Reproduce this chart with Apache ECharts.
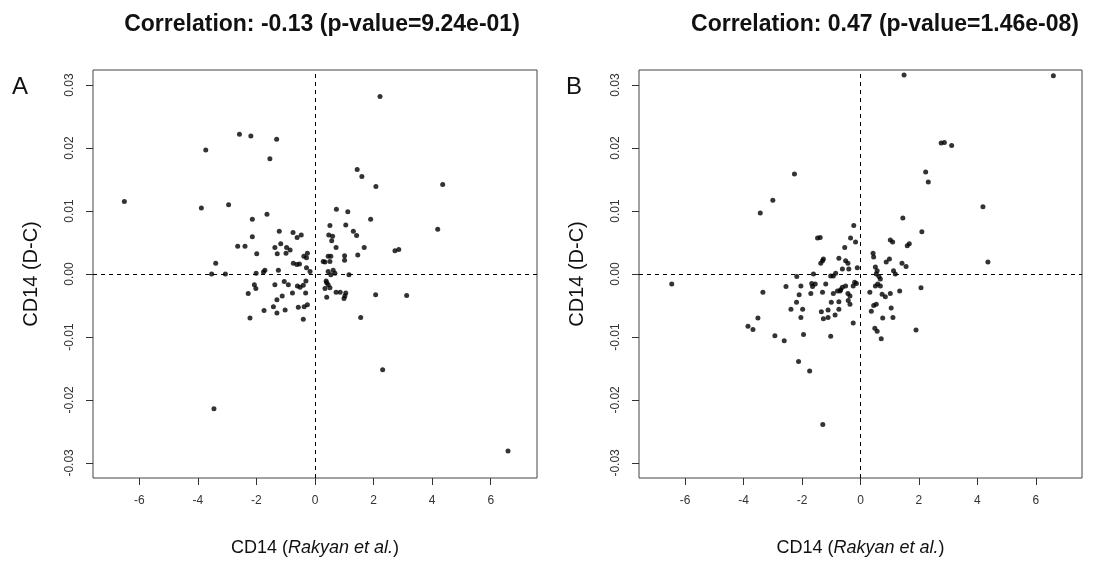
<!DOCTYPE html>
<html>
<head>
<meta charset="utf-8">
<script src="https://cdn.jsdelivr.net/npm/echarts@6/dist/echarts.min.js"></script>
<style>
html,body{margin:0;padding:0;background:#fff;}
#chart{width:1106px;height:566px;}
</style>
</head>
<body>
<div id="chart"></div>
<script>
// Panel titles and labels
const titleA = 'Correlation: -0.13 (p-value=9.24e-01)';
const titleB = 'Correlation: 0.47 (p-value=1.46e-08)';
const xTicks = [-6, -4, -2, 0, 2, 4, 6];
const yTicks = [-0.03, -0.02, -0.01, 0.00, 0.01, 0.02, 0.03];

// Panel A: CD14 (Rakyan et al.) vs CD14 (D-C)
const pointsA = [
[2.22,0.0282],[-2.58,0.0222],[-2.19,0.0219],[-1.31,0.0214],[-3.73,0.0197],[-1.54,0.0183],[1.44,0.0166],[1.60,0.0155],
[2.08,0.0139],[4.36,0.0142],[-6.51,0.0115],[-3.88,0.0105],[-2.95,0.0110],[-1.64,0.0095],[0.73,0.0103],[1.12,0.0099],
[-2.14,0.0087],[1.90,0.0087],[4.19,0.0071],[0.51,0.0077],[1.05,0.0078],[-1.22,0.0068],[-0.75,0.0066],[-0.47,0.0062],
[-0.61,0.0058],[-2.14,0.0059],[1.31,0.0068],[1.42,0.0061],[0.47,0.0062],[0.60,0.0060],[0.57,0.0053],[-2.64,0.0044],
[-2.39,0.0044],[-1.37,0.0042],[-1.17,0.0048],[-0.97,0.0042],[-0.85,0.0038],[-1.29,0.0032],[-0.99,0.0033],[0.72,0.0042],
[1.68,0.0042],[2.73,0.0037],[2.86,0.0039],[-1.99,0.0032],[-0.26,0.0033],[-0.38,0.0028],[-0.29,0.0026],[1.01,0.0029],
[1.01,0.0022],[1.46,0.0030],[0.45,0.0028],[0.54,0.0028],[0.28,0.0020],[0.34,0.0019],[0.51,0.0020],[-3.39,0.0017],
[-0.74,0.0017],[-0.62,0.0015],[-0.53,0.0016],[-0.29,0.0010],[-0.17,0.0004],[-1.71,0.0006],[-1.76,0.0003],[-2.01,0.0001],
[-1.25,0.0006],[-3.53,0.0000],[-3.06,0.0000],[0.45,0.0004],[0.62,0.0006],[0.68,0.0001],[0.54,-0.0001],[1.16,-0.0001],
[-2.07,-0.0017],[-2.02,-0.0023],[-1.37,-0.0017],[-1.05,-0.0012],[-0.91,-0.0017],[-2.28,-0.0031],[-1.12,-0.0035],[-1.30,-0.0041],
[-0.77,-0.0030],[-0.60,-0.0019],[-0.51,-0.0021],[-0.40,-0.0018],[-0.31,-0.0011],[-0.32,-0.0030],[-1.74,-0.0058],[-1.42,-0.0052],
[-1.30,-0.0062],[-1.02,-0.0057],[-0.57,-0.0053],[-0.37,-0.0052],[-0.26,-0.0049],[-2.22,-0.0070],[-0.40,-0.0072],[0.38,-0.0011],
[0.45,-0.0017],[0.51,-0.0022],[0.34,-0.0023],[0.40,-0.0037],[0.72,-0.0029],[0.86,-0.0029],[1.05,-0.0030],[0.99,-0.0039],
[1.02,-0.0035],[2.07,-0.0033],[3.13,-0.0034],[1.56,-0.0069],[2.31,-0.0152],[-3.45,-0.0214],[6.59,-0.0281],[0.40,-0.0014]
];

// Panel B
const pointsB = [
[1.49,0.0316],[6.60,0.0315],[2.76,0.0208],[2.87,0.0209],[3.12,0.0204],[2.23,0.0162],[2.32,0.0146],[-2.26,0.0159],
[-3.00,0.0117],[-3.43,0.0097],[4.19,0.0107],[1.45,0.0089],[2.10,0.0067],[-0.23,0.0077],[-1.47,0.0057],[-1.38,0.0058],
[1.02,0.0054],[1.10,0.0051],[1.67,0.0048],[1.60,0.0045],[-0.34,0.0057],[-0.17,0.0051],[-0.54,0.0042],[4.36,0.0019],
[0.43,0.0033],[0.45,0.0027],[0.99,0.0024],[0.88,0.0019],[1.42,0.0017],[1.56,0.0012],[-0.74,0.0025],[-0.51,0.0021],
[-0.43,0.0017],[-0.40,0.0008],[-1.27,0.0024],[-1.36,0.0017],[-1.30,0.0021],[-0.11,0.0010],[-0.62,0.0008],[0.51,0.0011],
[0.57,0.0005],[0.54,0.0000],[0.63,-0.0004],[0.68,-0.0008],[0.59,-0.0016],[0.51,-0.0019],[0.68,-0.0019],[1.13,0.0005],
[1.19,0.0000],[-1.61,0.0000],[-1.02,-0.0003],[-0.85,0.0001],[-0.93,-0.0003],[-2.18,-0.0004],[-6.46,-0.0016],[-2.55,-0.0020],
[-2.04,-0.0019],[-1.67,-0.0015],[-1.64,-0.0020],[-1.19,-0.0016],[-0.62,-0.0021],[-0.51,-0.0019],[-0.68,-0.0025],[-0.25,-0.0019],
[-0.14,-0.0015],[2.07,-0.0022],[-3.34,-0.0029],[-2.10,-0.0033],[-1.70,-0.0031],[-1.30,-0.0029],[-0.93,-0.0031],[-0.79,-0.0027],
[-0.70,-0.0027],[-0.43,-0.0031],[-0.36,-0.0035],[-0.42,-0.0042],[0.32,-0.0029],[0.74,-0.0032],[1.02,-0.0031],[1.34,-0.0027],
[-2.19,-0.0045],[-2.38,-0.0056],[-1.98,-0.0056],[-3.51,-0.0070],[-2.04,-0.0069],[-1.34,-0.0060],[-1.27,-0.0071],[-1.11,-0.0057],
[-1.11,-0.0069],[-1.00,-0.0045],[-0.74,-0.0044],[-0.74,-0.0056],[-0.87,-0.0065],[-0.36,-0.0048],[-0.25,-0.0078],[-3.85,-0.0083],
[-3.68,-0.0088],[-2.93,-0.0098],[-2.61,-0.0106],[-1.95,-0.0096],[-1.02,-0.0099],[-2.12,-0.0139],[-1.74,-0.0154],[0.37,-0.0059],
[0.45,-0.0050],[0.54,-0.0048],[0.76,-0.0070],[1.05,-0.0054],[1.11,-0.0069],[0.49,-0.0086],[0.57,-0.0091],[0.71,-0.0103],
[1.90,-0.0089],[-1.29,-0.0239],[0.85,-0.0036],[-1.55,-0.0016],[-0.20,-0.0013]
];

const FONT = '"Liberation Sans", Arial, sans-serif';
const X_MIN = -7.58, X_MAX = 7.58, Y_MIN = -0.0324, Y_MAX = 0.0324;

function xAxisFor(gi) {
  return {
    type: 'value', gridIndex: gi, min: X_MIN, max: X_MAX, position: 'bottom',
    splitLine: {show: false}, axisLine: {show: false, onZero: false},
    axisTick: {show: true, inside: false, length: 7, customValues: xTicks, lineStyle: {color: '#333', width: 1}},
    axisLabel: {customValues: xTicks, margin: 17, color: '#333', fontFamily: FONT, fontSize: 12,
      formatter: v => String(Math.round(v))},
    name: '{n|CD14 (}{i|Rakyan et al.}{n|)}', nameLocation: 'middle', nameGap: 61,
    nameTextStyle: {rich: {
      n: {fontFamily: FONT, fontSize: 18, color: '#111'},
      i: {fontFamily: FONT, fontSize: 18, fontStyle: 'italic', color: '#111'}
    }}
  };
}
function yAxisFor(gi) {
  return {
    type: 'value', gridIndex: gi, min: Y_MIN, max: Y_MAX, position: 'left',
    splitLine: {show: false}, axisLine: {show: false, onZero: false},
    axisTick: {show: true, inside: false, length: 7, customValues: yTicks, lineStyle: {color: '#333', width: 1}},
    axisLabel: {customValues: yTicks, rotate: 90, margin: 17, color: '#333', fontFamily: FONT, fontSize: 12,
      formatter: v => v.toFixed(2)},
    name: 'CD14 (D-C)', nameLocation: 'middle', nameGap: 52, nameRotate: 90,
    nameTextStyle: {fontFamily: FONT, fontSize: 20, color: '#111'}
  };
}
function zeroLines() {
  return {
    silent: true, symbol: 'none', label: {show: false},
    lineStyle: {color: '#000', type: [4, 4], width: 1},
    data: [{xAxis: 0}, {yAxis: 0}]
  };
}

const chart = echarts.init(document.getElementById('chart'), null, {renderer: 'canvas'});
chart.setOption({
  animation: false,
  backgroundColor: '#fff',
  title: [
    {text: titleA, left: 317, top: 8, textAlign: 'center',
     textStyle: {fontFamily: FONT, fontSize: 23, fontWeight: 'bold', color: '#111'}},
    {text: titleB, left: 880, top: 8, textAlign: 'center',
     textStyle: {fontFamily: FONT, fontSize: 23, fontWeight: 'bold', color: '#111'}}
  ],
  graphic: [
    {type: 'text', left: 12, top: 75, style: {text: 'A', font: '24px ' + FONT, fill: '#111'}},
    {type: 'text', left: 566, top: 75, style: {text: 'B', font: '24px ' + FONT, fill: '#111'}}
  ],
  grid: [
    {left: 93, top: 70, width: 444, height: 408, show: true, borderColor: '#444', borderWidth: 1, backgroundColor: 'transparent'},
    {left: 639, top: 70, width: 443, height: 408, show: true, borderColor: '#444', borderWidth: 1, backgroundColor: 'transparent'}
  ],
  xAxis: [xAxisFor(0), xAxisFor(1)],
  yAxis: [yAxisFor(0), yAxisFor(1)],
  series: [
    {type: 'scatter', xAxisIndex: 0, yAxisIndex: 0, data: pointsA, symbol: 'circle', symbolSize: 5,
     itemStyle: {color: '#000'}, markLine: zeroLines()},
    {type: 'scatter', xAxisIndex: 1, yAxisIndex: 1, data: pointsB, symbol: 'circle', symbolSize: 5,
     itemStyle: {color: '#000'}, markLine: zeroLines()}
  ]
});
</script>
</body>
</html>
